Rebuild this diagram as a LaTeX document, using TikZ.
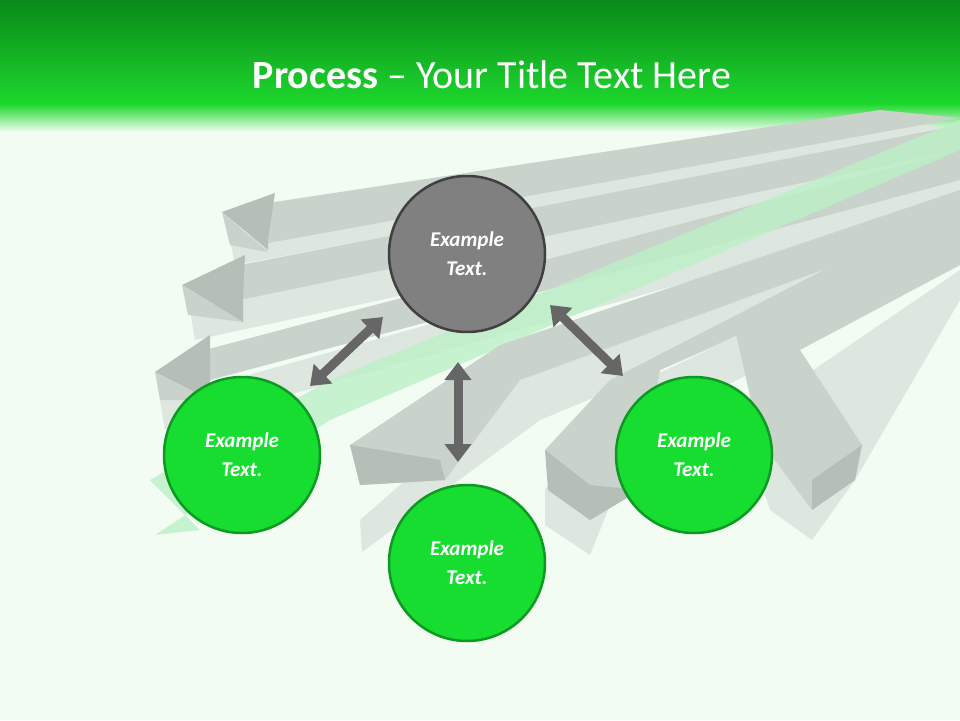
\documentclass[tikz,border=0pt]{standalone}
\usepackage{fontspec}
\setmainfont{Carlito}
\usetikzlibrary{arrows.meta}
\definecolor{bgc}{HTML}{F3FCF3}
\definecolor{topg}{HTML}{0A8A1A}
\definecolor{midg}{HTML}{1ED82E}
\definecolor{cg}{HTML}{16DD30}
\definecolor{cgb}{HTML}{0E9A22}
\definecolor{arA}{HTML}{C9D2CB}
\definecolor{arB}{HTML}{B5BFB8}
\definecolor{arC}{HTML}{DDE6DF}
\definecolor{arG}{HTML}{BDF0C6}
\tikzset{
 topface/.style={fill=arA},
 sideface/.style={fill=arB},
 lowface/.style={fill=arC},
 circ/.style={circle,minimum size=156pt,line width=2.5pt,draw=cgb,fill=cg,text=white,font=\fontsize{21}{29}\selectfont\bfseries\itshape,align=center},
 darr/.style={line width=9pt,draw=black!60,{Triangle[width=26pt,length=18pt]}-{Triangle[width=26pt,length=18pt]}}
}
\begin{document}
\begin{tikzpicture}[x=1pt,y=-1pt]
\useasboundingbox (0,0) rectangle (960,720);
\fill[bgc] (0,0) rectangle (960,720);
\shade[top color=topg,bottom color=midg] (0,0) rectangle (960,105);
\shade[top color=midg,bottom color=bgc] (0,104) rectangle (960,132);
% background arrows
\fill[lowface] (230,240) -- (900,120) -- (960,130) -- (235,265) -- cycle;
\fill[topface] (268,203) -- (880,110) -- (960,118) -- (268,243) -- cycle;
\fill[sideface] (275,193) -- (222,212) -- (268,250) -- (268,240) -- cycle;
\fill[topface] (222,212) -- (230,245) -- (268,252) -- cycle;
\fill[lowface] (190,310) -- (960,150) -- (960,175) -- (195,340) -- cycle;
\fill[topface] (240,265) -- (960,125) -- (960,150) -- (240,300) -- cycle;
\fill[sideface] (245,255) -- (182,285) -- (243,322) -- (243,300) -- cycle;
\fill[topface] (182,285) -- (188,315) -- (243,322) -- cycle;
\fill[lowface] (160,400) -- (960,175) -- (960,205) -- (165,430) -- cycle;
\fill[topface] (205,350) -- (960,150) -- (960,180) -- (210,380) -- cycle;
\fill[sideface] (210,335) -- (155,372) -- (210,400) -- (210,380) -- cycle;
\fill[topface] (155,372) -- (160,400) -- (210,400) -- cycle;
\fill[arG,opacity=.8] (150,480) -- (330,380) -- (960,120) -- (960,150) -- (330,420) -- (155,535) -- (200,530) -- cycle;
\fill[lowface] (360,520) -- (520,380) -- (960,215) -- (960,245) -- (540,420) -- (362,552) -- cycle;
\fill[topface] (350,445) -- (500,345) -- (960,190) -- (960,220) -- (520,380) -- (445,480) -- (360,485) -- cycle;
\fill[sideface] (350,445) -- (360,485) -- (445,480) -- (440,460) -- cycle;
\fill[lowface] (545,490) -- (600,400) -- (960,235) -- (960,265) -- (640,430) -- (590,555) -- (545,525) -- cycle;
\fill[topface] (545,450) -- (610,380) -- (960,200) -- (960,235) -- (660,370) -- (640,490) -- (590,520) -- cycle;
\fill[sideface] (545,450) -- (590,485) -- (640,490) -- (590,520) -- (548,490) -- cycle;
\fill[lowface] (740,420) -- (960,270) -- (960,300) -- (855,480) -- (812,540) -- (770,510) -- cycle;
\fill[topface] (735,330) -- (960,230) -- (960,265) -- (800,350) -- (862,445) -- (812,510) -- (760,440) -- cycle;
\fill[sideface] (812,480) -- (862,445) -- (855,480) -- (812,510) -- cycle;
% title
\node (title) at (492,75) {\fontsize{40}{46}\selectfont\color{white}\textbf{Process} – Your Title Text Here};
% circles
\node[circ,draw=black!75,fill=black!50] (c0) at (467,254) {Example\\Text.};
\node[circ] (c1) at (242,455) {Example\\Text.};
\node[circ] (c2) at (467,563) {Example\\Text.};
\node[circ] (c3) at (694,455) {Example\\Text.};
\coordinate (a1) at (310,386); \coordinate (b1) at (383,317);
\coordinate (a2) at (458,362); \coordinate (b2) at (458,462);
\coordinate (a3) at (550,305); \coordinate (b3) at (623,376);
\draw[darr] (a1) -- (b1);
\draw[darr] (a2) -- (b2);
\draw[darr] (a3) -- (b3);
\end{tikzpicture}
\end{document}
